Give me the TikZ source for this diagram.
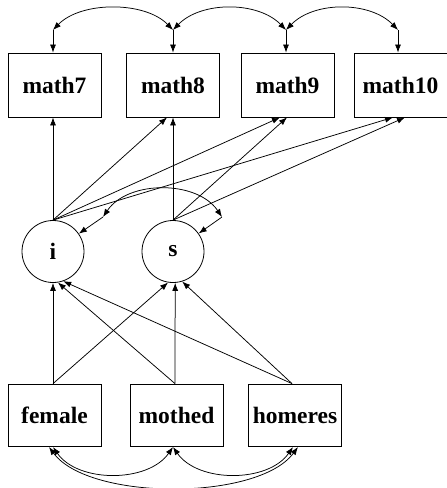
\documentclass[tikz,border=0pt]{standalone}
\usepackage{fontspec}
\setmainfont{Liberation Serif}
\usetikzlibrary{arrows.meta}
\begin{document}
\begin{tikzpicture}[x=1pt,y=-1pt,
  every node/.style={font=\fontsize{23.5}{27}\selectfont\bfseries},
  obs/.style={draw, line width=0.8pt, minimum width=93pt, minimum height=64pt, inner sep=0pt},
  obsb/.style={obs, minimum height=62pt},
  lat/.style={draw, circle, line width=0.8pt, minimum size=62pt, inner sep=0pt},
  conn/.style={line width=0.75pt, -{Latex[length=8pt,width=6pt]}},
  cov/.style={line width=0.75pt, {Latex[length=8pt,width=6pt]}-{Latex[length=8pt,width=6pt]}}]
\useasboundingbox (0,0) rectangle (447,488);
% observed outcomes
\node[obs] (m7) at (54.5,85) {math7};
\node[obs] (m8) at (173,85) {math8};
\node[obs] (m9) at (287.5,85) {math9};
\node[obs] (m10) at (400.5,85) {math10};
% latent growth factors
\node[lat] (i) at (53,251.5) {i};
\node[lat] (s) at (173,251.5) {s};
% covariates
\node[obsb] (female) at (54.5,415) {female};
\node[obsb] (mothed) at (176.5,415) {mothed};
\node[obsb] (homeres) at (295,415) {homeres};
% top residual covariances
\coordinate (t7) at (53,30);
\coordinate (t8) at (173,30);
\coordinate (t9) at (286,30);
\coordinate (t10) at (398,30);
\draw[conn] (t7) -- (t7 |- m7.north);
\draw[conn] (t8) -- (t8 |- m8.north);
\draw[conn] (t9) -- (t9 |- m9.north);
\draw[conn] (t10) -- (t10 |- m10.north);
\draw[cov] (t7) .. controls +(28,-29) and +(-28,-29) .. (t8);
\draw[cov] (t8) .. controls +(28,-29) and +(-28,-29) .. (t9);
\draw[cov] (t9) .. controls +(28,-29) and +(-28,-29) .. (t10);
% loadings
\draw[conn] (i.north) -- (i.north |- m7.south);
\draw[conn] (i.north) -- ([xshift=-6pt]m8.south);
\draw[conn] (i.north) -- ([xshift=-7.5pt]m9.south);
\draw[conn] (i.north) -- ([xshift=-7.5pt]m10.south);
\draw[conn] (s.north) -- (m8.south);
\draw[conn] (s.north) -- ([xshift=-0.5pt]m9.south);
\draw[conn] (s.north) -- ([xshift=4.5pt]m10.south);
% i-s covariance
\coordinate (ci) at (103,217);
\coordinate (cs) at (222,217);
\draw[conn] (ci) -- (i);
\draw[conn] (cs) -- (s);
\draw[cov] (ci) .. controls +(25,-37) and +(-25,-37) .. (cs);
% regressions
\draw[conn] ([xshift=-1.5pt]female.north) -- (i.south);
\draw[conn] ([xshift=-1.5pt]female.north) -- (s.-99);
\draw[conn] ([xshift=-1.5pt]mothed.north) -- (i.-81);
\draw[conn] ([xshift=-1.5pt]mothed.north) -- (s.-86);
\draw[conn] ([xshift=-3pt]homeres.north) -- (i.-71);
\draw[conn] ([xshift=-3pt]homeres.north) -- (s.-73);
% covariate covariances
\coordinate (fb1) at (49,447);
\coordinate (fb2) at (53,447);
\coordinate (mb) at (173,447);
\coordinate (hb1) at (293,447);
\coordinate (hb2) at (298,447);
\draw[cov] (fb2) .. controls +(25,36) and +(-25,36) .. (mb);
\draw[cov] (mb) .. controls +(25,36) and +(-25,36) .. (hb1);
\draw[cov] (fb1) .. controls +(40,54) and +(-40,54) .. (hb2);
\end{tikzpicture}
\end{document}
